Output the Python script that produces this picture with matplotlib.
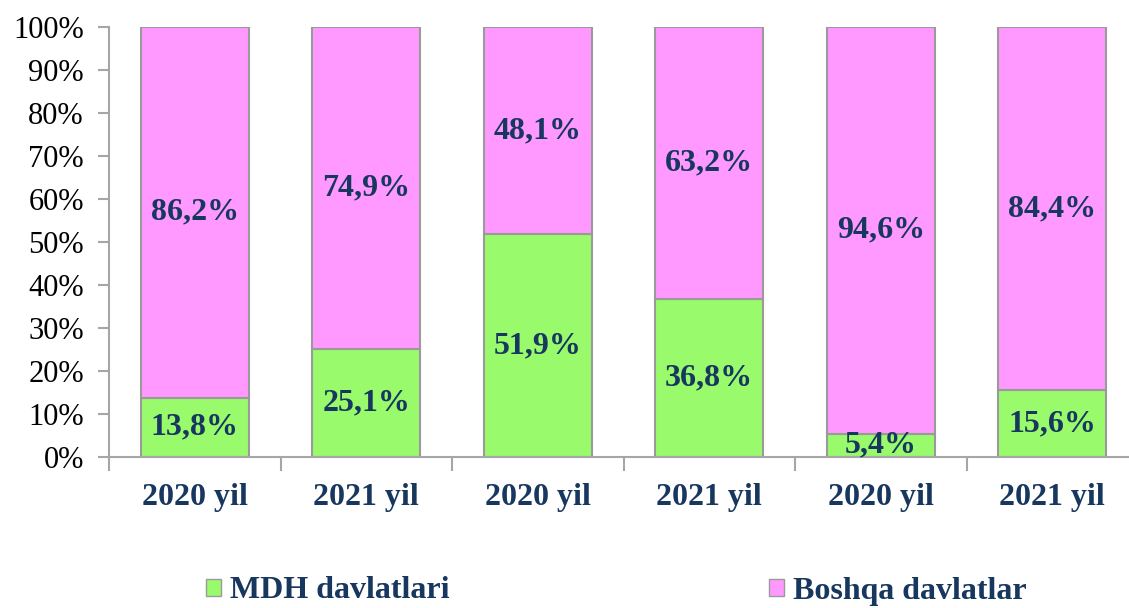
import numpy as np
import matplotlib.pyplot as plt
from matplotlib.patches import Patch

years = ['2020 yil', '2021 yil', '2020 yil', '2021 yil', '2020 yil', '2021 yil']
mdh = [13.8, 25.1, 51.9, 36.8, 5.4, 15.6]
boshqa = [86.2, 74.9, 48.1, 63.2, 94.6, 84.4]
series_names = ['MDH davlatlari', 'Boshqa davlatlar']

green = '#99FB6C'
pink = '#FF99FF'
navy = '#17375E'
grey = '#A6A6A6'
serif = ['Liberation Serif', 'DejaVu Serif']

fig = plt.figure(figsize=(11.29, 6.08), dpi=100)
ax = fig.add_axes([109/1129, 1 - 457/608, 1029/1129, 430/608])

x = np.arange(len(years))
w = 0.63
ax.bar(x, mdh, w, color=green, edgecolor='#9A9A9A', linewidth=1.5)
ax.bar(x, boshqa, w, bottom=mdh, color=pink, edgecolor='#9A9A9A', linewidth=1.5)

for i in range(len(x)):
    ax.text(x[i], mdh[i] / 2, ('%.1f%%' % mdh[i]).replace('.', ','),
            ha='center', va='center', fontsize=23, fontweight='bold',
            color=navy, family=serif)
    ax.text(x[i], mdh[i] + boshqa[i] / 2, ('%.1f%%' % boshqa[i]).replace('.', ','),
            ha='center', va='center', fontsize=23, fontweight='bold',
            color=navy, family=serif)

ax.set_xlim(-0.5, 5.5)
ax.set_ylim(0, 100)
ax.set_yticks(np.arange(0, 101, 10))
ax.set_yticklabels(['%d%%' % v for v in range(0, 101, 10)], fontsize=22,
                   family=serif)
ax.set_xticks(x)
ax.set_xticklabels(years, fontsize=23, fontweight='bold', color=navy,
                   family=serif)
ax.set_xticks(np.arange(-0.5, 5.6, 1), minor=True)
ax.tick_params(axis='x', which='major', length=0, pad=19)
ax.tick_params(axis='x', which='minor', length=10, width=1.5, color=grey)
ax.tick_params(axis='y', length=8, width=1.5, color=grey, pad=10)

for s in ['top', 'right']:
    ax.spines[s].set_visible(False)
for s in ['left', 'bottom']:
    ax.spines[s].set_color(grey)
    ax.spines[s].set_linewidth(1.5)

handles = [Patch(facecolor=green, edgecolor='#9A9A9A'),
           Patch(facecolor=pink, edgecolor='#9A9A9A')]
fig.legend(handles, series_names, loc='center', ncol=2,
           bbox_to_anchor=(0.546, 1 - 591/608), frameon=False,
           handlelength=0.45, handleheight=0.45, handletextpad=0.3,
           columnspacing=10.0,
           prop={'family': serif, 'size': 23, 'weight': 'bold'},
           labelcolor=navy)

fig.savefig('out.png', dpi=100)
